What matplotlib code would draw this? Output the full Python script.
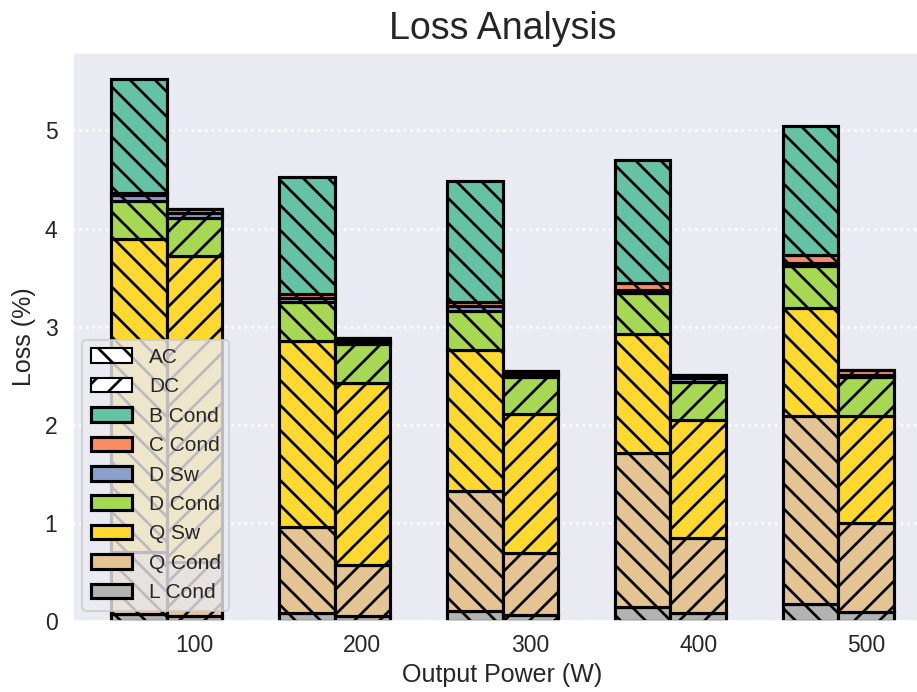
import numpy as np
import matplotlib.pyplot as plt
import seaborn as sns
from matplotlib.patches import Patch

sns.set_theme(style="darkgrid", context="notebook")
plt.rcParams['font.family'] = ['Liberation Sans', 'DejaVu Sans']
plt.rcParams['hatch.linewidth'] = 1.3

powers = ["100", "200", "300", "400", "500"]
# loss components, stacked bottom to top
components = ["L Cond", "Q Cond", "Q Sw", "D Cond", "D Sw", "C Cond", "B Cond"]

# AC side losses (%)
ac_l_cond = [0.07, 0.08, 0.10, 0.14, 0.17]
ac_q_cond = [0.63, 0.88, 1.22, 1.57, 1.92]
ac_q_sw = [3.19, 1.89, 1.44, 1.22, 1.10]
ac_d_cond = [0.39, 0.40, 0.40, 0.41, 0.43]
ac_d_sw = [0.06, 0.04, 0.05, 0.03, 0.03]
ac_c_cond = [0.02, 0.04, 0.04, 0.07, 0.08]
ac_b_cond = [1.16, 1.19, 1.23, 1.26, 1.31]

# DC side losses (%)
dc_l_cond = [0.05, 0.05, 0.065, 0.08, 0.09]
dc_q_cond = [0.55, 0.52, 0.625, 0.77, 0.91]
dc_q_sw = [3.12, 1.86, 1.42, 1.20, 1.09]
dc_d_cond = [0.39, 0.39, 0.38, 0.39, 0.40]
dc_d_sw = [0.05, 0.03, 0.03, 0.035, 0.02]
dc_c_cond = [0.04, 0.03, 0.03, 0.035, 0.05]
dc_b_cond = [0.0, 0.0, 0.0, 0.0, 0.0]

ac = [ac_l_cond, ac_q_cond, ac_q_sw, ac_d_cond, ac_d_sw, ac_c_cond, ac_b_cond]
dc = [dc_l_cond, dc_q_cond, dc_q_sw, dc_d_cond, dc_d_sw, dc_c_cond, dc_b_cond]

set2 = sns.color_palette("Set2")
colors = [set2[7], set2[6], set2[5], set2[4], set2[2], set2[1], set2[0]]

fig = plt.figure(figsize=(917 / 150, 692 / 150), dpi=150)
# axes runs a little past the right edge of the figure
ax = fig.add_axes([0.0785, 0.1026, 0.939, 0.8224])

x = np.arange(len(powers))
w = 0.33
bottom_ac = np.zeros(len(powers))
bottom_dc = np.zeros(len(powers))
for vals_ac, vals_dc, c in zip(ac, dc, colors):
    ax.bar(x - w, vals_ac, w, bottom=bottom_ac, color=c, edgecolor='black',
           linewidth=1.5, hatch='\\\\')
    ax.bar(x, vals_dc, w, bottom=bottom_dc, color=c, edgecolor='black',
           linewidth=1.5, hatch='//')
    bottom_ac += vals_ac
    bottom_dc += vals_dc

ax.set_xticks(x)
ax.set_xticklabels(powers)
ax.set_ylim(0, 5.8)
ax.tick_params(axis='x', labelsize=11, length=0, pad=6)
ax.tick_params(axis='y', labelsize=11, length=0, pad=7)
ax.xaxis.grid(False)
ax.yaxis.grid(True, linestyle=':', color='white', linewidth=1.2)
ax.set_xlabel("Output Power (W)", fontsize=12, labelpad=3)
ax.set_ylabel("Loss (%)", fontsize=12)
ax.set_title("Loss Analysis", fontsize=18)

handles = [Patch(facecolor='white', edgecolor='black', hatch='\\\\', label='AC'),
           Patch(facecolor='white', edgecolor='black', hatch='//', label='DC')]
for name, c in zip(components[::-1], colors[::-1]):
    handles.append(Patch(facecolor=c, edgecolor='black', linewidth=1.5, label=name))
ax.legend(handles=handles, loc='lower left', fontsize=10)

fig.savefig("out.png", dpi=150)
